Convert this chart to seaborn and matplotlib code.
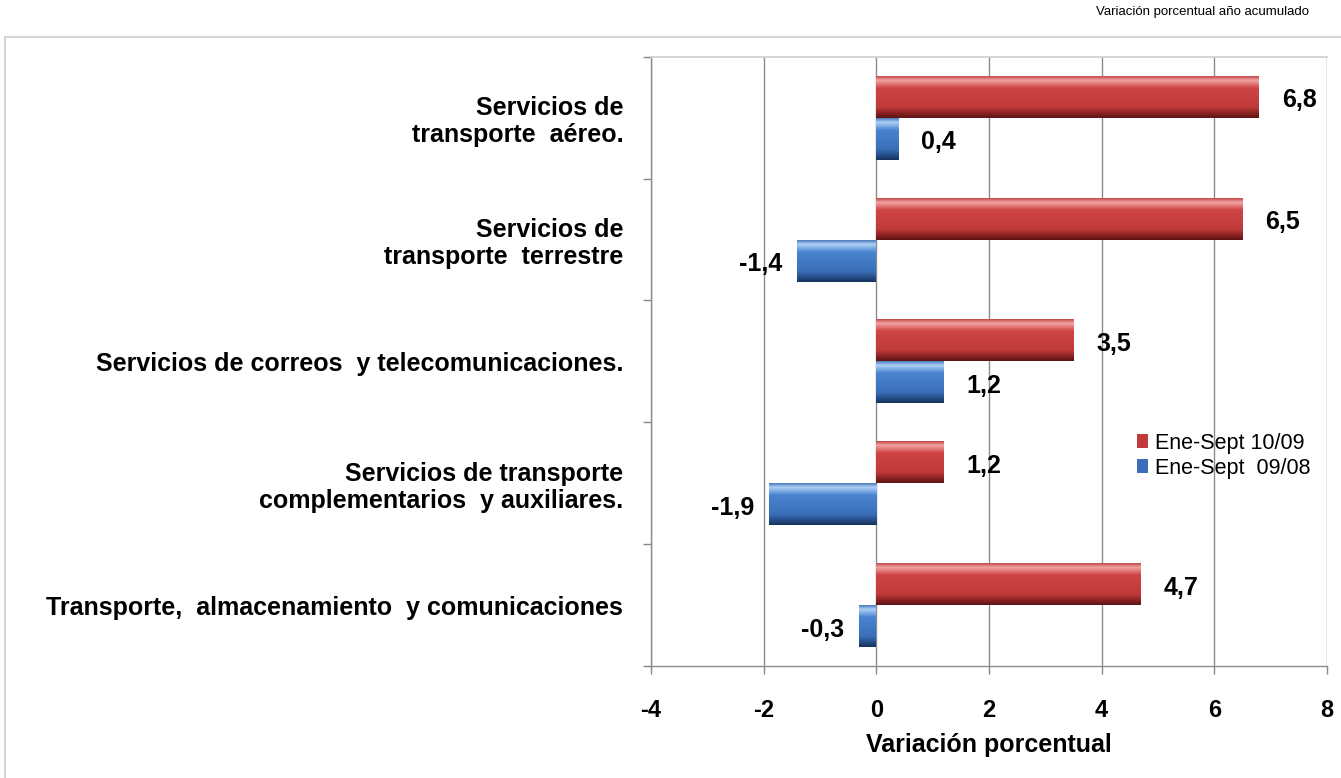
import matplotlib

matplotlib.use('Agg')
import matplotlib.pyplot as plt
import numpy as np
import pandas as pd
import seaborn as sns
from matplotlib.colors import LinearSegmentedColormap
from matplotlib.patches import Rectangle

categorias = [
    'Servicios de\ntransporte  aéreo.',
    'Servicios de\ntransporte  terrestre',
    'Servicios de correos  y telecomunicaciones.',
    'Servicios de transporte\ncomplementarios  y auxiliares.',
    'Transporte,  almacenamiento  y comunicaciones',
]
series = ['Ene-Sept 10/09', 'Ene-Sept  09/08']
valores_1009 = [6.8, 6.5, 3.5, 1.2, 4.7]
valores_0908 = [0.4, -1.4, 1.2, -1.9, -0.3]
x_ticks = [-4, -2, 0, 2, 4, 6, 8]

df = pd.DataFrame({
    'categoria': categorias * 2,
    'serie': [series[0]] * len(categorias) + [series[1]] * len(categorias),
    'valor': valores_1009 + valores_0908,
})

sns.set_theme(style='white')
plt.rcParams['font.family'] = ['Liberation Sans', 'DejaVu Sans']
plt.rcParams['text.color'] = 'black'
plt.rcParams['axes.labelcolor'] = 'black'
plt.rcParams['xtick.labelcolor'] = 'black'
plt.rcParams['ytick.labelcolor'] = 'black'

colores = {series[0]: '#c23b3b', series[1]: '#3a6fb8'}
gradientes = {
    series[0]: [(0.0, '#b83434'), (0.12, '#f2a3a3'), (0.3, '#cf4444'),
                (0.75, '#c03a3a'), (0.88, '#8e2424'), (1.0, '#5c1414')],
    series[1]: [(0.0, '#3467b0'), (0.12, '#aed0f5'), (0.3, '#4a84cf'),
                (0.75, '#3a6fb8'), (0.88, '#27508c'), (1.0, '#16325c')],
}

fig = plt.figure(figsize=(13.41, 7.78), dpi=100)
ax = fig.add_axes([0.4855, 0.144, 0.504, 0.783])

# marco exterior del gráfico
fig.patches.append(Rectangle((0.004, -0.05), 1.0, 1.002, transform=fig.transFigure,
                             facecolor='white', edgecolor='#d6d6d6', linewidth=1.5, zorder=-10))

sns.barplot(data=df, y='categoria', x='valor', hue='serie', orient='h',
            palette=colores, width=0.69, saturation=1, ax=ax, legend=True,
            edgecolor='none')

# efecto biselado con degradado vertical
n = len(categorias)
for i, patch in enumerate(ax.patches[:2 * n]):
    serie = series[i // n]
    cmap = LinearSegmentedColormap.from_list('g', gradientes[serie])
    x0, y0 = patch.get_x(), patch.get_y()
    w, h = patch.get_width(), patch.get_height()
    grad = np.linspace(0, 1, 128).reshape(-1, 1)
    img = ax.imshow(grad, cmap=cmap, aspect='auto', extent=(x0, x0 + w, y0 + h, y0),
                    origin='upper', zorder=3)
    img.set_clip_path(patch)
    patch.set_zorder(3)

ax.set_xlim(-4, 8)
ax.set_ylim(n - 0.5, -0.5)
ax.set_xticks(x_ticks)
ax.set_xticklabels([str(t) for t in x_ticks], fontsize=17, fontweight='bold')
ax.set_yticks(range(n))
ax.set_yticklabels(categorias, fontsize=18, fontweight='bold', linespacing=1.15)
ax.set_yticks(np.arange(-0.5, n, 1), minor=True)
ax.tick_params(axis='y', which='major', length=0, pad=20)
ax.tick_params(axis='y', which='minor', length=6, color='#888888', width=1, direction='out', left=True)
ax.tick_params(axis='x', length=6, color='#888888', width=1, direction='out', bottom=True, pad=18)
ax.set_ylabel('')
ax.set_xlabel('Variación porcentual', fontsize=18, fontweight='bold', labelpad=8)

ax.grid(axis='x', color='#8c8c8c', linewidth=1)
ax.set_axisbelow(True)
for s in ['left', 'bottom']:
    ax.spines[s].set_color('#8c8c8c')
    ax.spines[s].set_linewidth(1)
ax.spines['top'].set_color('#d0d0d0')
ax.spines['right'].set_visible(False)

# etiquetas de valores
for i, patch in enumerate(ax.patches[:2 * n]):
    v = patch.get_width()
    yc = patch.get_y() + patch.get_height() / 2 + 0.03
    txt = f'{v:.1f}'.replace('.', ',')
    if v >= 0:
        ax.text(v + 0.4, yc, txt, ha='left', va='center', fontsize=18, fontweight='bold')
    else:
        ax.text(v - 0.27, yc, txt, ha='right', va='center', fontsize=18, fontweight='bold')

leg = ax.legend(loc='upper left', bbox_to_anchor=(0.69, 0.415), frameon=False,
                fontsize=15.5, handlelength=0.5, handleheight=0.6, handletextpad=0.35,
                labelspacing=0.2)

fig.text(0.976, 0.985, 'Variación porcentual año acumulado', ha='right', va='center', fontsize=9.5)

fig.savefig('out.png', dpi=100)
